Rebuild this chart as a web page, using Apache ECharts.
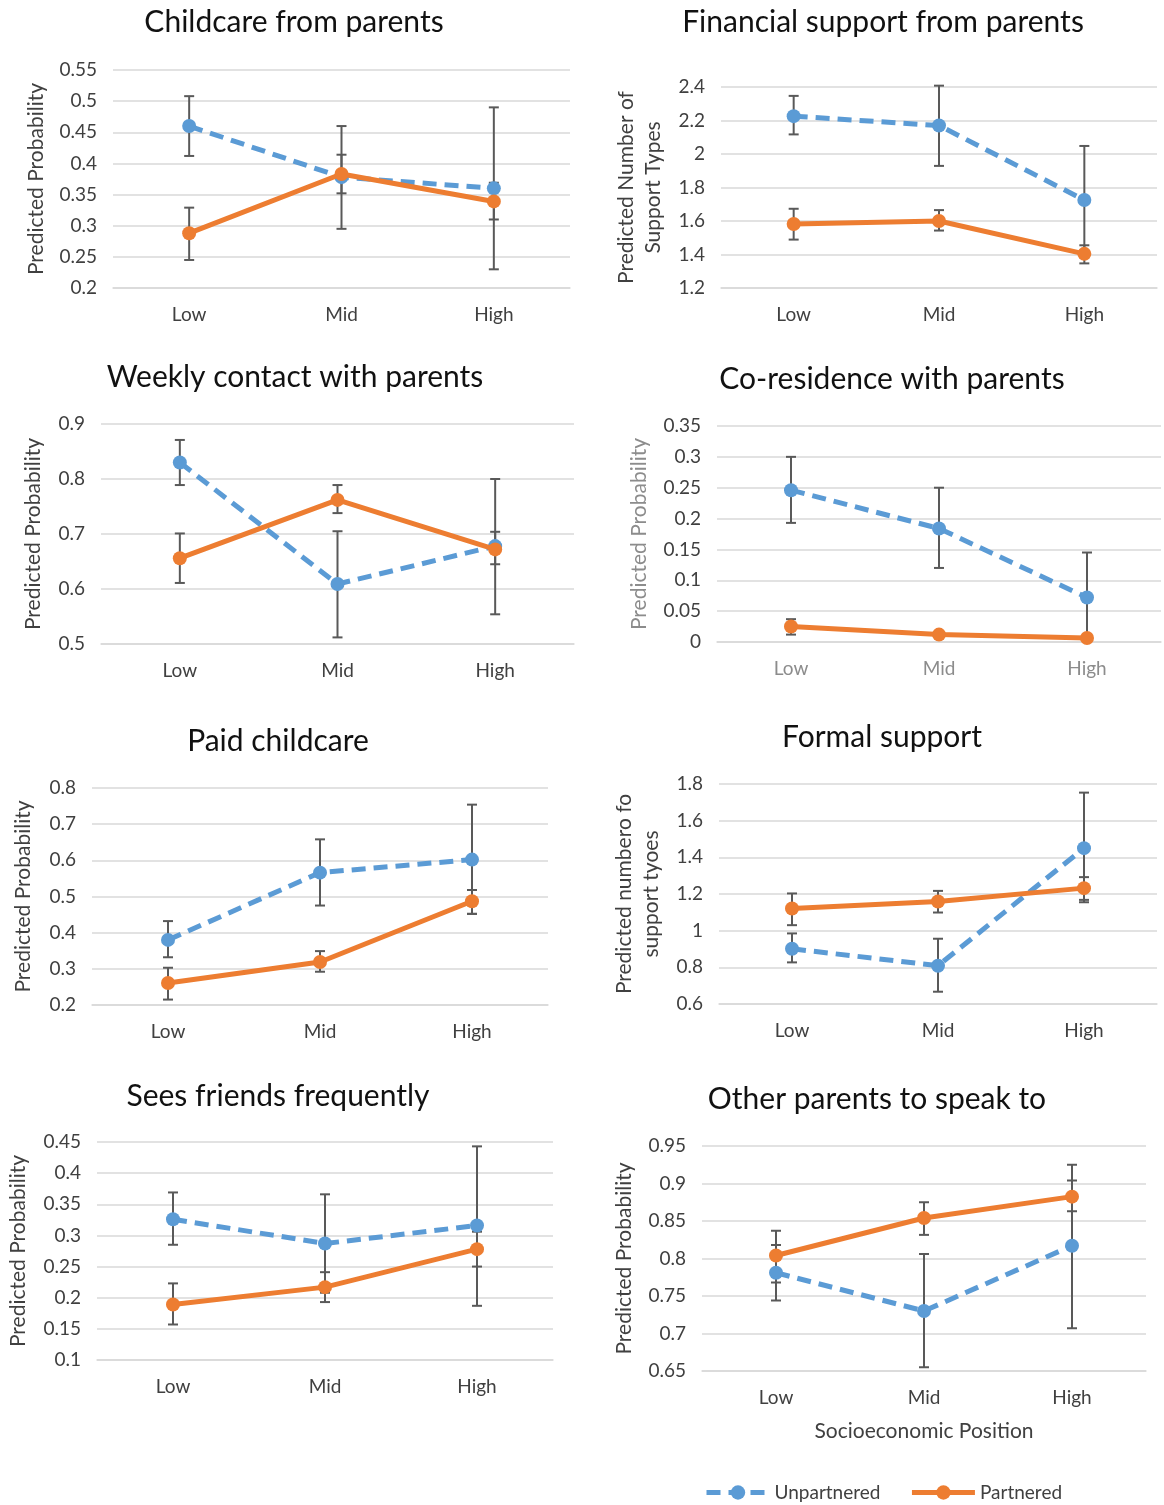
<!DOCTYPE html>
<html>
<head>
<meta charset="utf-8">
<script src="https://cdn.jsdelivr.net/npm/echarts@6/dist/echarts.min.js"></script>
<style>
html, body { margin: 0; padding: 0; background: #fff; }
#chart { width: 1164px; height: 1505px; }
</style>
</head>
<body>
<div id="chart"></div>
<script>
var categories = ['Low', 'Mid', 'High'];

// Childcare from parents
var childcareUnp = [0.46, 0.378, 0.36];
var childcareUnpCI = [[0.412, 0.508], [0.295, 0.46], [0.23, 0.49]];
var childcarePart = [0.288, 0.383, 0.339];
var childcarePartCI = [[0.245, 0.329], [0.352, 0.414], [0.31, 0.369]];

// Financial support from parents
var financeUnp = [2.226, 2.17, 1.725];
var financeUnpCI = [[2.117, 2.347], [1.929, 2.408], [1.40, 2.048]];
var financePart = [1.582, 1.60, 1.404];
var financePartCI = [[1.489, 1.673], [1.543, 1.665], [1.347, 1.455]];

// Weekly contact with parents
var contactUnp = [0.83, 0.609, 0.678];
var contactUnpCI = [[0.789, 0.871], [0.512, 0.705], [0.554, 0.80]];
var contactPart = [0.656, 0.762, 0.672];
var contactPartCI = [[0.611, 0.701], [0.738, 0.789], [0.645, 0.704]];

// Co-residence with parents
var coresUnp = [0.246, 0.184, 0.072];
var coresUnpCI = [[0.193, 0.30], [0.12, 0.25], [0.0, 0.145]];
var coresPart = [0.025, 0.012, 0.0065];
var coresPartCI = [[0.012, 0.037], [0.008, 0.016], [0.003, 0.010]];

// Paid childcare
var paidUnp = [0.38, 0.566, 0.602];
var paidUnpCI = [[0.332, 0.432], [0.475, 0.658], [0.452, 0.754]];
var paidPart = [0.261, 0.319, 0.487];
var paidPartCI = [[0.215, 0.303], [0.292, 0.349], [0.452, 0.518]];

// Formal support
var formalUnp = [0.901, 0.809, 1.45];
var formalUnpCI = [[0.827, 0.985], [0.667, 0.956], [1.155, 1.753]];
var formalPart = [1.121, 1.159, 1.232];
var formalPartCI = [[1.03, 1.203], [1.099, 1.217], [1.168, 1.292]];

// Sees friends frequently
var friendsUnp = [0.326, 0.287, 0.316];
var friendsUnpCI = [[0.285, 0.369], [0.208, 0.366], [0.187, 0.443]];
var friendsPart = [0.189, 0.217, 0.278];
var friendsPartCI = [[0.157, 0.223], [0.193, 0.241], [0.25, 0.306]];

// Other parents to speak to
var otherUnp = [0.781, 0.730, 0.817];
var otherUnpCI = [[0.744, 0.818], [0.655, 0.806], [0.707, 0.925]];
var otherPart = [0.804, 0.854, 0.8825];
var otherPartCI = [[0.768, 0.837], [0.8315, 0.875], [0.863, 0.904]];

var FONT = 'Lato';
var BLUE = '#5B9BD5', ORANGE = '#ED7D31', BAR = '#595959';

var panels = [
    { title: 'Childcare from parents', tx: 294, ty: 22, left: 113, top: 70, width: 457, height: 218,
      min: 0.2, max: 0.55, step: 0.05, yName: 'Predicted Probability', gap: 63,
      unp: childcareUnp, unpCI: childcareUnpCI, part: childcarePart, partCI: childcarePartCI },
    { title: 'Financial support from parents', tx: 883, ty: 22, left: 721, top: 87, width: 436, height: 201,
      min: 1.2, max: 2.4, step: 0.2, yName: 'Predicted Number of\nSupport Types', gap: 54,
      unp: financeUnp, unpCI: financeUnpCI, part: financePart, partCI: financePartCI },
    { title: 'Weekly contact with parents', tx: 295, ty: 377, left: 101, top: 424, width: 473, height: 220,
      min: 0.5, max: 0.9, step: 0.1, yName: 'Predicted Probability', gap: 54,
      unp: contactUnp, unpCI: contactUnpCI, part: contactPart, partCI: contactPartCI },
    { title: 'Co-residence with parents', tx: 892, ty: 379, left: 717, top: 426, width: 444, height: 216,
      min: 0, max: 0.35, step: 0.05, yName: 'Predicted Probability', gap: 64, light: true,
      unp: coresUnp, unpCI: coresUnpCI, part: coresPart, partCI: coresPartCI },
    { title: 'Paid childcare', tx: 278, ty: 741, left: 92, top: 788, width: 456, height: 217,
      min: 0.2, max: 0.8, step: 0.1, yName: 'Predicted Probability', gap: 55,
      unp: paidUnp, unpCI: paidUnpCI, part: paidPart, partCI: paidPartCI },
    { title: 'Formal support', tx: 882, ty: 737, left: 719, top: 784, width: 438, height: 220,
      min: 0.6, max: 1.8, step: 0.2, yName: 'Predicted numbero fo\nsupport tyoes', gap: 54,
      unp: formalUnp, unpCI: formalUnpCI, part: formalPart, partCI: formalPartCI },
    { title: 'Sees friends frequently', tx: 278, ty: 1096, left: 97, top: 1142, width: 456, height: 218,
      min: 0.1, max: 0.45, step: 0.05, yName: 'Predicted Probability', gap: 65,
      unp: friendsUnp, unpCI: friendsUnpCI, part: friendsPart, partCI: friendsPartCI },
    { title: 'Other parents to speak to', tx: 877, ty: 1099, left: 702, top: 1146, width: 444, height: 225,
      min: 0.65, max: 0.95, step: 0.05, yName: 'Predicted Probability', gap: 64, xName: 'Socioeconomic Position',
      unp: otherUnp, unpCI: otherUnpCI, part: otherPart, partCI: otherPartCI }
];

function errorBarSeries(ci, idx) {
    return {
        type: 'custom',
        xAxisIndex: idx,
        yAxisIndex: idx,
        silent: true,
        z: 1,
        clip: false,
        data: ci.map(function (d, k) { return [k, d[0], d[1]]; }),
        encode: { x: 0, y: [1, 2] },
        renderItem: function (params, api) {
            var x = api.value(0);
            var lo = api.coord([x, api.value(1)]);
            var hi = api.coord([x, api.value(2)]);
            var hw = 5;
            var st = { stroke: BAR, lineWidth: 2 };
            return {
                type: 'group',
                children: [
                    { type: 'line', shape: { x1: lo[0], y1: lo[1], x2: hi[0], y2: hi[1] }, style: st },
                    { type: 'line', shape: { x1: lo[0] - hw, y1: lo[1], x2: lo[0] + hw, y2: lo[1] }, style: st },
                    { type: 'line', shape: { x1: hi[0] - hw, y1: hi[1], x2: hi[0] + hw, y2: hi[1] }, style: st }
                ]
            };
        }
    };
}

var titles = [], grids = [], xAxes = [], yAxes = [], series = [];

panels.forEach(function (p, i) {
    var catColor = p.light ? '#8c8c8c' : '#404040';
    titles.push({
        text: p.title, left: p.tx, top: p.ty - 15, textAlign: 'center', padding: 0,
        textStyle: { fontFamily: FONT, fontSize: 30, fontWeight: 'normal', color: '#111' }
    });
    grids.push({ left: p.left, top: p.top, width: p.width, height: p.height });
    xAxes.push({
        type: 'category', gridIndex: i, data: categories, boundaryGap: true,
        axisLine: { show: true, lineStyle: { color: '#d9d9d9', width: 1.5 } },
        axisTick: { show: false },
        axisLabel: { margin: 17, fontFamily: FONT, fontSize: 19, color: catColor },
        name: p.xName || '', nameLocation: 'middle', nameGap: 50,
        nameTextStyle: { fontFamily: FONT, fontSize: 21, color: '#404040' }
    });
    yAxes.push({
        type: 'value', gridIndex: i, min: p.min, max: p.max, interval: p.step,
        axisLine: { show: false }, axisTick: { show: false },
        splitLine: { lineStyle: { color: '#d9d9d9', width: 1.5 } },
        axisLabel: { margin: 16, fontFamily: FONT, fontSize: 19, color: '#404040' },
        name: p.yName, nameLocation: 'middle', nameRotate: 90, nameGap: p.gap,
        nameTextStyle: { fontFamily: FONT, fontSize: 21, color: p.light ? '#8c8c8c' : '#404040', lineHeight: 27 }
    });
    series.push(errorBarSeries(p.unpCI, i));
    series.push(errorBarSeries(p.partCI, i));
    series.push({
        name: 'Unpartnered', type: 'line', xAxisIndex: i, yAxisIndex: i, data: p.unp,
        symbol: 'circle', symbolSize: 14, z: 3,
        lineStyle: { color: BLUE, width: 5, type: [14, 8] },
        itemStyle: { color: BLUE }
    });
    series.push({
        name: 'Partnered', type: 'line', xAxisIndex: i, yAxisIndex: i, data: p.part,
        symbol: 'circle', symbolSize: 14, z: 4,
        lineStyle: { color: ORANGE, width: 5 },
        itemStyle: { color: ORANGE }
    });
});

var chart = echarts.init(document.getElementById('chart'), null, { renderer: 'canvas' });
chart.setOption({
    backgroundColor: '#fff',
    animation: false,
    title: titles,
    grid: grids,
    xAxis: xAxes,
    yAxis: yAxes,
    legend: {
        data: ['Unpartnered', 'Partnered'],
        left: 699, top: 1478, itemWidth: 63, itemHeight: 18, itemGap: 29,
        lineStyle: { width: 5 },
        textStyle: { fontFamily: FONT, fontSize: 19, color: '#404040' }
    },
    series: series
});
</script>
</body>
</html>
